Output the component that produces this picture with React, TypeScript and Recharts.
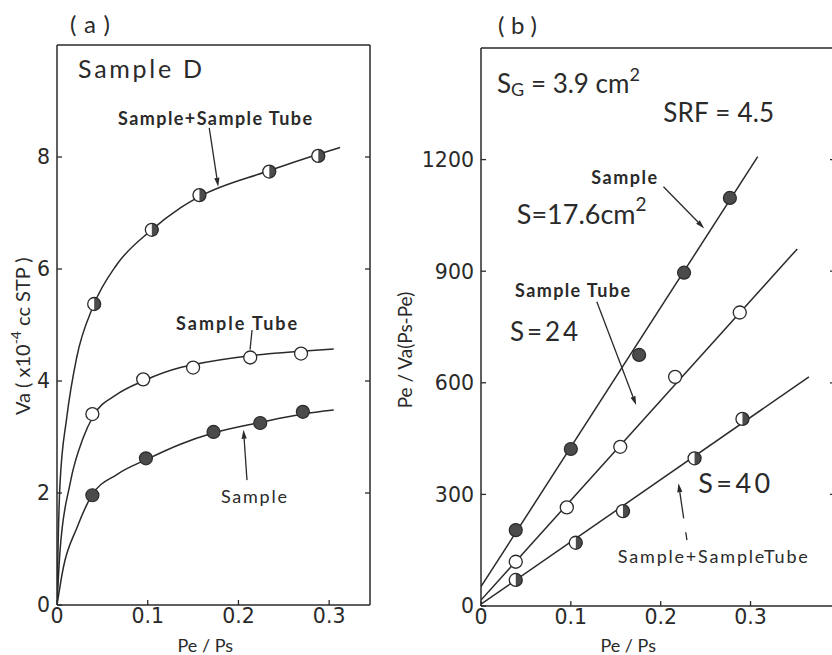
import React from 'react';
import { ComposedChart, Line, Scatter, XAxis, YAxis, ReferenceDot, ReferenceLine } from 'recharts';

const INK = '#2a2a2a';
const FILL = '#4b4b4b';
const FONT = 'Lato, "DejaVu Sans", sans-serif';
const TICKFONT = '"DejaVu Sans", sans-serif';

type P = { x: number; y: number };
const toPts = (arr: number[][]): P[] => arr.map(([x, y]) => ({ x, y }));

// ---------- Panel (a): Va vs Pe/Ps ----------
const aXTicks = [0, 0.1, 0.2, 0.3];
const aYTicks = [0, 2, 4, 6, 8];
const aSamplePts = toPts([[0.039, 1.96], [0.098, 2.62], [0.1725, 3.09], [0.224, 3.25], [0.271, 3.45]]);
const aTubePts = toPts([[0.039, 3.41], [0.095, 4.03], [0.15, 4.24], [0.213, 4.42], [0.269, 4.49]]);
const aBothPts = toPts([[0.041, 5.375], [0.1045, 6.7], [0.157, 7.32], [0.234, 7.74], [0.288, 8.02]]);
const aSampleCurve = toPts([[0, 0], [0.007, 0.67], [0.022, 1.38], [0.038, 1.95], [0.066, 2.33], [0.099, 2.6], [0.136, 2.87], [0.172, 3.07], [0.224, 3.26], [0.271, 3.41], [0.305, 3.48]]);
const aTubeCurve = toPts([[0, 0], [0.0033, 0.96], [0.0143, 2.16], [0.029, 2.99], [0.04, 3.375], [0.066, 3.76], [0.095, 4.0], [0.136, 4.24], [0.15, 4.29], [0.213, 4.45], [0.269, 4.53], [0.305, 4.57]]);
const aBothCurve = toPts([[0, 0], [0.001, 0.9], [0.0033, 2.16], [0.0107, 3.34], [0.0217, 4.42], [0.04, 5.34], [0.066, 6.08], [0.103, 6.68], [0.136, 7.09], [0.158, 7.3], [0.231, 7.74], [0.288, 8.05], [0.312, 8.17]]);

// ---------- Panel (b): Pe / Va(Ps-Pe) vs Pe/Ps ----------
const bXTicks = [0, 0.1, 0.2, 0.3];
const bYTicks = [0, 300, 600, 900, 1200];
const bSamplePts = toPts([[0.0387, 204], [0.1, 422], [0.176, 675], [0.226, 896], [0.277, 1097]]);
const bTubePts = toPts([[0.0387, 119], [0.0955, 265], [0.155, 428], [0.216, 616], [0.288, 789]]);
const bBothPts = toPts([[0.0387, 70], [0.1055, 170], [0.158, 255], [0.2377, 397], [0.291, 503]]);
const bSampleLine = toPts([[0, 52], [0.308, 1208]]);
const bTubeLine = toPts([[0, 16], [0.352, 960]]);
const bBothLine = toPts([[0, 5], [0.365, 616]]);

const R = 6.5;
const FilledDot = (p: any) => <circle cx={p.cx} cy={p.cy} r={R} fill={FILL} stroke={INK} strokeWidth={1.2} />;
const OpenDot = (p: any) => <circle cx={p.cx} cy={p.cy} r={R} fill="#fff" stroke={INK} strokeWidth={1.3} />;
const HalfDot = (p: any) => {
  const { cx, cy } = p;
  return (
    <g>
      <circle cx={cx} cy={cy} r={R} fill="#fff" />
      <path d={`M${cx},${cy - R} A${R},${R} 0 0 1 ${cx},${cy + R} Z`} fill={FILL} />
      <circle cx={cx} cy={cy} r={R} fill="none" stroke={INK} strokeWidth={1.3} />
    </g>
  );
};

const mkTick = (side: 'left' | 'right' | 'top' | 'bottom', label: boolean) => (p: any) => {
  const { x, y, payload } = p;
  const v = payload && payload.value;
  const L = 5;
  const dx = side === 'left' ? L : side === 'right' ? -L : 0;
  const dy = side === 'top' ? L : side === 'bottom' ? -L : 0;
  return (
    <g>
      <line x1={x} y1={y} x2={x + dx} y2={y + dy} stroke={INK} strokeWidth={1.3} />
      {label && side === 'left' && (
        <text x={x - 7} y={y} dy="0.36em" textAnchor="end" fontSize={20.5} fontFamily={TICKFONT} fill={INK}>{String(v)}</text>
      )}
      {label && side === 'bottom' && (
        <text x={x} y={y + 3} dy="0.72em" textAnchor="middle" fontSize={20.5} fontFamily={TICKFONT} fill={INK}>{String(v)}</text>
      )}
    </g>
  );
};

const Arrow = (p: any) => {
  const { x1, y1, x2, y2, head = true, dash } = p;
  if ([x1, y1, x2, y2].some((v) => typeof v !== 'number' || isNaN(v))) return null;
  const a = Math.atan2(y2 - y1, x2 - x1);
  const L = 9, W = 2.6;
  const bx = x2 - L * Math.cos(a), by = y2 - L * Math.sin(a);
  const pts = `${x2},${y2} ${bx + W * Math.sin(a)},${by - W * Math.cos(a)} ${bx - W * Math.sin(a)},${by + W * Math.cos(a)}`;
  return (
    <g>
      <line x1={x1} y1={y1} x2={head ? bx : x2} y2={head ? by : y2} stroke={INK} strokeWidth={1.3} strokeDasharray={dash} />
      {head && <polygon points={pts} fill={INK} />}
    </g>
  );
};

const note = (key: string, x: number, y: number, render: (cx: number, cy: number) => React.ReactElement) => (
  <ReferenceDot key={key} x={x} y={y} r={0} ifOverflow="visible" shape={(p: any) => render(p.cx, p.cy)} />
);

const txt = (size: number, opts: { len?: number; weight?: number | string; anchor?: string } = {}) =>
  (content: React.ReactNode) => (cx: number, cy: number) => (
    <text x={cx} y={cy} fontSize={size} fontWeight={opts.weight ?? 400} textAnchor={opts.anchor ?? 'start'}
      dominantBaseline="central" fill={INK} fontFamily={FONT}
      {...(opts.len ? { textLength: opts.len, lengthAdjust: 'spacing' } : {})}>
      {content}
    </text>
  );

const arrow = (key: string, x1: number, y1: number, x2: number, y2: number, head = true, dash?: string) => (
  <ReferenceLine key={key} segment={[{ x: x1, y: y1 }, { x: x2, y: y2 }]} ifOverflow="visible"
    shape={(p: any) => <Arrow {...p} head={head} dash={dash} />} />
);

const axisLine = { stroke: INK, strokeWidth: 1.5 };

export default function App() {
  return (
    <div style={{ position: 'absolute', left: 0, top: 0, width: 832, height: 655, overflow: 'hidden', background: '#fff' }}>
      <div style={{ position: 'absolute', left: 0, top: 0 }}>
        <ComposedChart width={380} height={655} margin={{ top: 44, right: 9, bottom: 49, left: 56 }}>
          <XAxis dataKey="x" type="number" domain={[0, 0.345]} allowDataOverflow ticks={aXTicks} interval={0}
            height={1} tickSize={0} tickMargin={0} tickLine={false} axisLine={axisLine} tick={mkTick('bottom', true)} />
          <XAxis xAxisId="top" orientation="top" type="number" domain={[0, 0.345]} allowDataOverflow ticks={[0.1, 0.2, 0.3]} interval={0}
            height={1} tickSize={0} tickMargin={0} tickLine={false} axisLine={axisLine} tick={mkTick('top', false)} />
          <YAxis dataKey="y" type="number" domain={[0, 10]} allowDataOverflow ticks={aYTicks} interval={0}
            width={1} tickSize={0} tickMargin={0} tickLine={false} axisLine={axisLine} tick={mkTick('left', true)} />
          <YAxis yAxisId="right" orientation="right" type="number" domain={[0, 10]} allowDataOverflow ticks={[2, 4, 6, 8]} interval={0}
            width={1} tickSize={0} tickMargin={0} tickLine={false} axisLine={axisLine} tick={mkTick('right', false)} />

          <Line data={aSampleCurve} dataKey="y" type="monotone" stroke={INK} strokeWidth={1.5} dot={false} isAnimationActive={false} />
          <Line data={aTubeCurve} dataKey="y" type="monotone" stroke={INK} strokeWidth={1.5} dot={false} isAnimationActive={false} />
          <Line data={aBothCurve} dataKey="y" type="monotone" stroke={INK} strokeWidth={1.5} dot={false} isAnimationActive={false} />
          <Scatter data={aSamplePts} dataKey="y" shape={FilledDot} isAnimationActive={false} />
          <Scatter data={aTubePts} dataKey="y" shape={OpenDot} isAnimationActive={false} />
          <Scatter data={aBothPts} dataKey="y" shape={HalfDot} isAnimationActive={false} />

          {note('a-title', 0.0143, 10.39, txt(24, { len: 40 })('(a)'))}
          {note('a-sd', 0.0232, 9.59, txt(25, { len: 124 })('Sample D'))}
          {note('a-both', 0.0673, 8.7, txt(18, { len: 194, weight: 700 })('Sample+Sample Tube'))}
          {arrow('a-arr1', 0.1678, 8.52, 0.1777, 7.47)}
          {note('a-tube', 0.1313, 5.04, txt(18, { len: 121, weight: 700 })('Sample Tube'))}
          {arrow('a-arr2', 0.215, 4.91, 0.2128, 4.56, false)}
          {note('a-sample', 0.1807, 1.95, txt(18, { len: 66, weight: 400 })('Sample'))}
          {arrow('a-arr3', 0.2094, 2.23, 0.2056, 3.13)}
          {note('a-ylab', -0.0386, 4.8, (cx, cy) => (
            <text x={cx} y={cy} transform={`rotate(-90 ${cx} ${cy})`} textAnchor="middle" dominantBaseline="central"
              fontSize={20} fill={INK} fontFamily={FONT}>
              Va ( x10<tspan fontSize={14} dy={-7}>-4</tspan><tspan dy={7}> cc STP )</tspan>
            </text>
          ))}
          {note('a-xlab', 0.1634, -0.714, txt(18, { anchor: 'middle' })('Pe / Ps'))}
        </ComposedChart>
      </div>

      <div style={{ position: 'absolute', left: 380, top: 0 }}>
        <ComposedChart width={480} height={655} margin={{ top: 47, right: 24, bottom: 48, left: 100 }}>
          <XAxis dataKey="x" type="number" domain={[0, 0.394]} allowDataOverflow ticks={bXTicks} interval={0}
            height={1} tickSize={0} tickMargin={0} tickLine={false} axisLine={axisLine} tick={mkTick('bottom', true)} />
          <XAxis xAxisId="top" orientation="top" type="number" domain={[0, 0.394]} allowDataOverflow ticks={[0.1, 0.2, 0.3]} interval={0}
            height={1} tickSize={0} tickMargin={0} tickLine={false} axisLine={axisLine} tick={mkTick('top', false)} />
          <YAxis dataKey="y" type="number" domain={[0, 1500]} allowDataOverflow ticks={bYTicks} interval={0}
            width={1} tickSize={0} tickMargin={0} tickLine={false} axisLine={axisLine} tick={mkTick('left', true)} />
          <YAxis yAxisId="right" orientation="right" type="number" domain={[0, 1500]} allowDataOverflow ticks={[300, 600, 900, 1200]} interval={0}
            width={1} tickSize={0} tickMargin={0} tickLine={false} axisLine={axisLine} tick={mkTick('right', false)} />

          <Line data={bSampleLine} dataKey="y" type="linear" stroke={INK} strokeWidth={1.5} dot={false} isAnimationActive={false} />
          <Line data={bTubeLine} dataKey="y" type="linear" stroke={INK} strokeWidth={1.5} dot={false} isAnimationActive={false} />
          <Line data={bBothLine} dataKey="y" type="linear" stroke={INK} strokeWidth={1.5} dot={false} isAnimationActive={false} />
          <Scatter data={bSamplePts} dataKey="y" shape={FilledDot} isAnimationActive={false} />
          <Scatter data={bTubePts} dataKey="y" shape={OpenDot} isAnimationActive={false} />
          <Scatter data={bBothPts} dataKey="y" shape={HalfDot} isAnimationActive={false} />

          {note('b-title', 0.0189, 1562, txt(24, { len: 39 })('(b)'))}
          {note('b-sg', 0.0178, 1406, (cx, cy) => (
            <text x={cx} y={cy} dominantBaseline="central" fontSize={26} fill={INK} fontFamily={FONT}>
              S<tspan fontSize={18} dy={6}>G</tspan><tspan dy={-6}> = 3.9 cm</tspan><tspan fontSize={18} dy={-9}>2</tspan>
            </text>
          ))}
          {note('b-srf', 0.2028, 1328, txt(26, { len: 111 })('SRF = 4.5'))}
          {note('b-sample', 0.1226, 1153, txt(18, { len: 66, weight: 700 })('Sample'))}
          {arrow('b-arr1', 0.2031, 1127, 0.2485, 1015)}
          {note('b-s176', 0.0398, 1056, (cx, cy) => (
            <text x={cx} y={cy} dominantBaseline="central" fontSize={27} fill={INK} fontFamily={FONT}>
              S=17.6cm<tspan fontSize={19} dy={-10}>2</tspan>
            </text>
          ))}
          {note('b-tube', 0.0379, 849, txt(18, { len: 115, weight: 700 })('Sample Tube'))}
          {arrow('b-arr2', 0.1289, 818, 0.1727, 540)}
          {note('b-s24', 0.0323, 739, txt(26, { len: 68 })('S=24'))}
          {note('b-s40', 0.2418, 331, txt(27, { len: 72 })('S=40'))}
          {note('b-both', 0.1523, 134, txt(18, { len: 190 })('Sample+SampleTube'))}
          {arrow('b-arr3', 0.2292, 177, 0.2198, 330, true, '8 14 100')}
          {note('b-ylab', -0.0846, 688, (cx, cy) => (
            <text x={cx} y={cy} transform={`rotate(-90 ${cx} ${cy})`} textAnchor="middle" dominantBaseline="central"
              fontSize={19} fill={INK} fontFamily={FONT}>
              Pe / Va(Ps-Pe)
            </text>
          ))}
          {note('b-xlab', 0.1638, -105, txt(18, { anchor: 'middle' })('Pe / Ps'))}
        </ComposedChart>
      </div>
    </div>
  );
}
